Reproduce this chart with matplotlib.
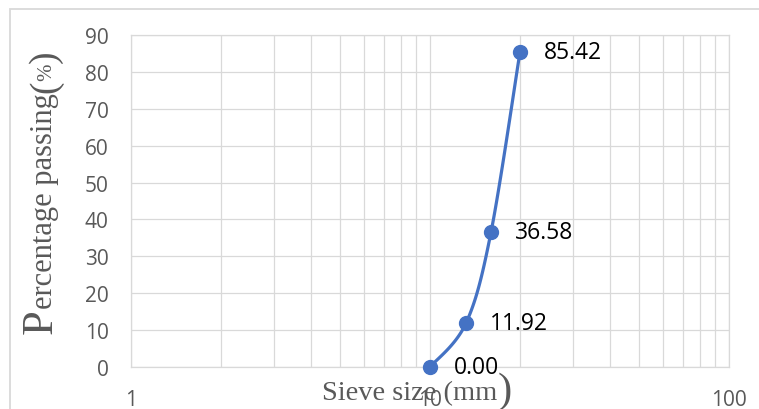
import matplotlib
matplotlib.use("Agg")
import matplotlib.pyplot as plt
import numpy as np
from matplotlib.transforms import IdentityTransform
from matplotlib.patches import Rectangle

# sieve analysis
sieve_mm = [10, 13.2, 16, 20]
passing = [0.00, 11.92, 36.58, 85.42]
y_ticks = [0, 10, 20, 30, 40, 50, 60, 70, 80, 90]
x_ticks = [1, 10, 100]

blue = "#4472C4"
grey_txt = "#595959"
grid_c = "#d9d9d9"


def smooth_curve(xs, ys, sx=299.0, sy=332.0 / 90):
    # bezier smoothing done in screen-like units (log x)
    p = np.column_stack([np.log10(xs) * sx, np.array(ys) * sy])
    p = np.vstack([p[0], p, p[-1]])
    out = []
    t = np.linspace(0, 1, 40)[:, None]
    for i in range(1, len(p) - 2):
        p0, p3 = p[i], p[i + 1]
        c1 = p0 + (p[i + 1] - p[i - 1]) / 6
        c2 = p3 - (p[i + 2] - p[i]) / 6
        seg = ((1 - t) ** 3) * p0 + 3 * ((1 - t) ** 2) * t * c1 + 3 * (1 - t) * t ** 2 * c2 + t ** 3 * p3
        out.append(seg)
    out = np.vstack(out)
    return 10 ** (out[:, 0] / sx), out[:, 1] / sy


def text_pieces(fig, x0, y0, pieces, rotation=0, **kw):
    # draw a label made of several font sizes, in pixel coords
    r = fig.canvas.get_renderer()
    pos = 0.0
    for s, size, dy in pieces:
        if rotation == 0:
            t = fig.text(x0 + pos, y0 + dy, s, fontsize=size, transform=IdentityTransform(),
                         ha="left", va="baseline", **kw)
            pos += t.get_window_extent(renderer=r).width
        else:
            t = fig.text(x0 - dy, y0 + pos, s, fontsize=size, transform=IdentityTransform(),
                         ha="left", va="baseline", rotation=90, rotation_mode="anchor", **kw)
            pos += t.get_window_extent(renderer=r).height


fig = plt.figure(figsize=(7.59, 4.10), dpi=100)
ax = fig.add_axes([131 / 759, 42 / 410, 598 / 759, 332 / 410])

fig.patches.append(Rectangle((10, -5), 760, 405, transform=IdentityTransform(),
                             fill=False, edgecolor=grid_c, linewidth=1.3))

ax.set_xscale("log")
ax.set_xlim(1, 100)
ax.set_ylim(0, 90)
ax.set_yticks(y_ticks)
ax.set_xticks(x_ticks)
ax.set_xticklabels([str(v) for v in x_ticks])
ax.grid(True, which="both", color=grid_c, linewidth=0.9)
ax.set_axisbelow(True)
ax.tick_params(which="both", length=0, colors=grey_txt, labelsize=15)
ax.tick_params(axis="y", pad=16)
ax.tick_params(axis="x", pad=16)
for lbl in ax.get_xticklabels() + ax.get_yticklabels():
    lbl.set_family("Open Sans")
for sp in ax.spines.values():
    sp.set_color(grid_c)
    sp.set_linewidth(0.9)

cx, cy = smooth_curve(sieve_mm, passing)
ax.plot(cx, cy, color=blue, linewidth=2.3, clip_on=False, zorder=3)
ax.plot(sieve_mm, passing, "o", color=blue, markersize=10, clip_on=False, zorder=4)

for xv, yv in zip(sieve_mm, passing):
    ax.annotate(f"{yv:.2f}", (xv, yv), xytext=(17, 0), textcoords="offset points",
                ha="left", va="center", fontsize=16.5, family="Open Sans",
                color="black", zorder=5)

# axis titles in serif with oversized first letter / brackets
text_pieces(fig, 322, 10, [("Sieve size (mm", 20.5, 0), (")", 31, -2)],
            family="Liberation Serif", color=grey_txt)
text_pieces(fig, 52, 76, [("P", 32, 0), ("ercentage passing", 22, 0), ("(", 27, -3),
                          ("%", 15, 1), (")", 27, -3)],
            rotation=90, family="Liberation Serif", color=grey_txt)

fig.savefig("out.png", dpi=100)
